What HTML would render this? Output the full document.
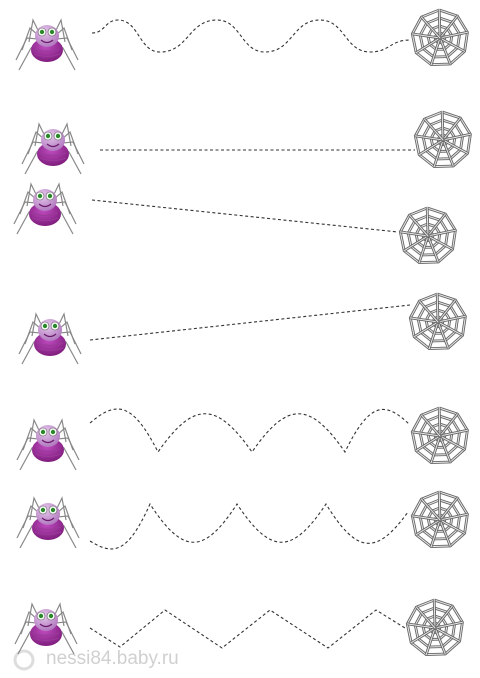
<!DOCTYPE html>
<html><head><meta charset="utf-8"><style>
html,body{margin:0;padding:0;background:#fff;width:480px;height:678px;overflow:hidden}
svg{display:block}
</style></head><body>
<svg id="s" width="480" height="678" viewBox="0 0 480 678">
<defs>
<radialGradient id="body" cx="0.45" cy="0.35" r="0.7"><stop offset="0" stop-color="#c04cc0"/><stop offset="1" stop-color="#7a1a78"/></radialGradient>
<radialGradient id="head" cx="0.4" cy="0.3" r="0.7"><stop offset="0" stop-color="#e6c8ec"/><stop offset="1" stop-color="#b27ac0"/></radialGradient>
</defs>
<text x="46" y="664" font-family="Liberation Sans, sans-serif" font-size="19" fill="#d0d0d0">nessi84.baby.ru</text>
<circle cx="24" cy="660" r="9" fill="none" stroke="#ddd" stroke-width="3"/>
</svg>
<script>
const spiders=[[47,42],[53,146],[45,206],[50,336],[48,442],[48,520],[46,626]];
const webs=[[440,38],[443,140],[428,236],[438,322],[440,436],[440,520],[435,628]];
const paths=[
 [[92,33],[118,20],[160,52],[217,20],[265,52],[320,20],[370,52],[410,40]],
 [[100,150],[415,150]],
 [[92,200],[398,232]],
 [[90,340],[410,305]],
 [[90,423],[158,452],[252,452],[345,452],[410,425]],
 [[90,541],[150,504],[237,504],[326,504],[408,512]],
 [[90,628],[120,647],[165,610],[222,648],[270,610],[328,648],[376,610],[405,628]]
];
const styles=['wave','line','line','line','arch','arch','line'];
const archPeaks=[0,0,0,0,401,555,0];
const NS='http://www.w3.org/2000/svg',svg=document.getElementById('s');
function el(t,a,p){const e=document.createElementNS(NS,t);for(const k in a)e.setAttribute(k,a[k]);(p||svg).appendChild(e);return e;}
paths.forEach((pts,i)=>{
 let d='M'+pts[0].join(',');
 for(let j=1;j<pts.length;j++){const a=pts[j-1],b=pts[j];
  if(styles[i]==='wave'){const mx=(a[0]+b[0])/2;d+=` C${mx},${a[1]} ${mx},${b[1]} ${b[0]},${b[1]}`;}
  else if(styles[i]==='arch'){const w=b[0]-a[0],p=archPeaks[i];d+=` C${a[0]+w*0.38},${p} ${b[0]-w*0.38},${p} ${b[0]},${b[1]}`;}
  else d+=' L'+b.join(',');}
 const e=el('path',{d:d,fill:'none',stroke:'#333','stroke-width':1.1,'stroke-dasharray':'3,2.5'});
 
 
});
spiders.forEach(([x,y],i)=>{
 const g=el('g',{transform:`translate(${x},${y})`});
 
 
 for(const s of [-1,1]){
  for(const [a,b,c] of [[14,-22,8],[17,-14,16],[20,-4,22],[16,6,24]]){
   el('polyline',{points:`${s*6},${-2+b/6} ${s*a},${b} ${s*(a+c/2)},${b+22}`,fill:'none',stroke:'#888','stroke-width':1.2},g);
  }
 }
 el('ellipse',{cx:0,cy:8,rx:16,ry:12,fill:'url(#body)'},g);
 el('path',{d:'M-13,7 Q0,12 13,7 M-13,12 Q0,17 13,12',stroke:'#9a3a9a','stroke-width':1,fill:'none'},g);
 el('ellipse',{cx:0,cy:-6,rx:12,ry:11,fill:'url(#head)'},g);
 el('circle',{cx:-5,cy:-10,r:4,fill:'#fff',stroke:'#555','stroke-width':0.6},g);
 el('circle',{cx:5,cy:-10,r:4,fill:'#fff',stroke:'#555','stroke-width':0.6},g);
 el('circle',{cx:-5,cy:-10,r:2.2,fill:'#2a8a2a'},g);
 el('circle',{cx:5,cy:-10,r:2.2,fill:'#2a8a2a'},g);
 el('path',{d:'M-6,-2 Q0,3 6,-2',stroke:'#6a1a6a','stroke-width':1.2,fill:'none'},g);
});
webs.forEach(([x,y],i)=>{
 const g=el('g',{transform:`translate(${x},${y})`});
 
 
 const n=9,R=28;
 for(const r of [R,20,12,5]){
  let d='';for(let k=0;k<=n;k++){const t=k/n*2*Math.PI-1.6;d+=(k?'L':'M')+(Math.cos(t)*r).toFixed(1)+','+(Math.sin(t)*r).toFixed(1);}
  el('path',{d:d,fill:'none',stroke:'#666','stroke-width':2.8},g);
  el('path',{d:d,fill:'none',stroke:'#e8e8e8','stroke-width':1},g);
 }
 for(let k=0;k<n;k++){const t=k/n*2*Math.PI-1.6;
  el('line',{x1:0,y1:0,x2:(Math.cos(t)*R).toFixed(1),y2:(Math.sin(t)*R).toFixed(1),stroke:'#666','stroke-width':2.8},g);
  el('line',{x1:0,y1:0,x2:(Math.cos(t)*R).toFixed(1),y2:(Math.sin(t)*R).toFixed(1),stroke:'#e8e8e8','stroke-width':1},g);}
});
</script>
</body></html>
